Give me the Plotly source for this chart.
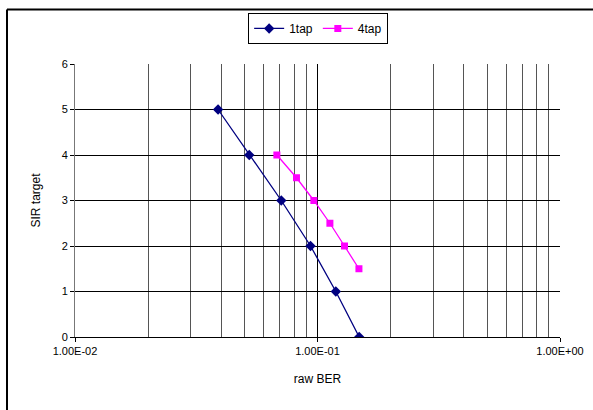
import plotly.graph_objects as go

# Data
sir_1tap = [5, 4, 3, 2, 1, 0]
ber_1tap = [0.0389, 0.0523, 0.0709, 0.0936, 0.119, 0.1486]

sir_4tap = [4, 3.5, 3, 2.5, 2, 1.5]
ber_4tap = [0.068, 0.0819, 0.0966, 0.1125, 0.1292, 0.1482]

x_major = [0.01, 0.1, 1.0]
x_labels = [f"{v:.2E}" for v in x_major]
x_minor = [k * 10 ** d for d in (-2, -1) for k in range(2, 10)]
y_ticks = [0, 1, 2, 3, 4, 5, 6]

FONT = "Liberation Sans, Arial, sans-serif"

fig = go.Figure()
fig.add_trace(go.Scatter(
    x=ber_1tap, y=sir_1tap, name="1tap", mode="lines+markers",
    line=dict(color="#000080", width=1.3),
    marker=dict(symbol="diamond", size=8, color="#000080"),
))
fig.add_trace(go.Scatter(
    x=ber_4tap, y=sir_4tap, name="4tap", mode="lines+markers",
    line=dict(color="#FF00FF", width=1.3),
    marker=dict(symbol="square", size=7, color="#FF00FF"),
))

fig.update_layout(
    width=593, height=410,
    margin=dict(l=75, r=33, t=64, b=73, autoexpand=False),
    paper_bgcolor="white", plot_bgcolor="white",
    font=dict(family=FONT, size=11, color="black"),
    showlegend=True,
    legend=dict(
        orientation="h", x=0.357, y=1.187, xanchor="left", yanchor="top",
        bordercolor="black", borderwidth=1, bgcolor="white",
        font=dict(size=12), itemwidth=30, tracegroupgap=0,
    ),
    xaxis=dict(
        type="log", range=[-2, 0],
        tickvals=x_major, ticktext=x_labels,
        showgrid=True, gridcolor="black", gridwidth=1,
        minor=dict(tickvals=x_minor, showgrid=True, gridcolor="#555555",
                   gridwidth=1, ticks=""),
        ticks="outside", ticklen=4, tickcolor="black",
        showline=True, linecolor="black", linewidth=1,
        zeroline=False, automargin=False,
        title=dict(text="raw BER", font=dict(size=12), standoff=18),
        tickfont=dict(size=11),
    ),
    yaxis=dict(
        range=[0, 6], tickvals=y_ticks,
        showgrid=True, gridcolor="black", gridwidth=1,
        ticks="outside", ticklen=4, tickcolor="black",
        showline=True, linecolor="#777777", linewidth=1,
        zeroline=False, automargin=False,
        title=dict(text="SIR target", font=dict(size=12), standoff=18),
        tickfont=dict(size=11),
    ),
    shapes=[
        dict(type="line", xref="paper", yref="paper",
             x0=-0.1402, x1=1.2, y0=1.1996, y1=1.1996,
             line=dict(color="black", width=2)),
        dict(type="line", xref="paper", yref="paper",
             x0=-0.1402, x1=-0.1402, y0=1.1996, y1=-0.3,
             line=dict(color="black", width=2)),
    ],
)

fig.write_html("out.html")
